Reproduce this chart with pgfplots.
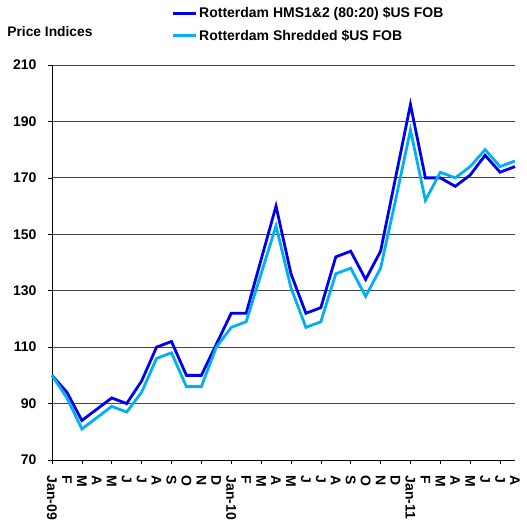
\documentclass[border=0pt]{standalone}
\usepackage{pgfplots}
\pgfplotsset{compat=1.18}
\usepackage{fontspec}
\setmainfont{Liberation Sans}
\definecolor{hms}{RGB}{0,0,240}
\definecolor{shr}{RGB}{0,176,240}
\definecolor{gridc}{RGB}{70,70,70}
\pgfplotstableread{
m hms shr
0 100 100
1 94 92
2 84 81
3 88 85
4 92 89
5 90 87
6 98 94
7 110 106
8 112 108
9 100 96
10 100 96
11 111 110
12 122 117
13 122 119
14 141 136
15 160 153
16 136 131
17 122 117
18 124 119
19 142 136
20 144 138
21 134 128
22 144 138
23 170 162
24 196 187
25 170 162
26 170 172
27 167 170
28 171 174
29 178 180
30 172 174
31 174 176
}\data
\begin{document}
\begin{tikzpicture}
\useasboundingbox (-52pt,-60pt) rectangle (475pt,460pt);
\begin{axis}[
  scale only axis, width=463pt, height=395pt,
  xmin=0, xmax=31, ymin=70, ymax=210,
  axis x line*=bottom, axis y line*=left,
  axis line style={black, line width=0.8pt, -},
  clip=false,
  ytick={70,90,...,210},
  ymajorgrids, grid style={gridc, line width=0.8pt},
  xtick={0,...,31},
  xticklabels={Jan-09,F,M,A,M,J,J,A,S,O,N,D,Jan-10,F,M,A,M,J,J,A,S,O,N,D,Jan-11,F,M,A,M,J,J,A},
  major x tick style={draw=none},
  minor xtick={0,2,...,30},
  minor x tick style={black, line width=0.6pt},
  minor tick length=4pt,
  major tick length=4pt,
  tick align=outside,
  y tick style={black, line width=0.6pt},
  tick label style={font=\bfseries\fontsize{14}{16}\selectfont},
  /pgf/number format/assume math mode=true,
  xticklabel style={rotate=-90, anchor=west, xshift=8pt},
  yticklabel style={xshift=-8pt},
  legend style={at={(0.257,1.152)}, anchor=north west, draw=none, fill=none,
    font=\bfseries\fontsize{14}{16}\selectfont, row sep=7pt, inner sep=0pt},
  legend cell align=left,
  legend image code/.code={\draw[#1, line width=3pt] (0pt,0pt) -- (23pt,0pt);},
]
\addplot[hms, line width=2.8pt] table[x=m, y=hms] {\data};
\addlegendentry{Rotterdam HMS1\&2 (80:20) \$US FOB}
\addplot[shr, line width=2.8pt] table[x=m, y=shr] {\data};
\addlegendentry{Rotterdam Shredded \$US FOB}
\node[anchor=west, font=\bfseries\fontsize{13.8}{15}\selectfont] at (rel axis cs:-0.104,1.0835) {Price Indices};
\end{axis}
\end{tikzpicture}
\end{document}
